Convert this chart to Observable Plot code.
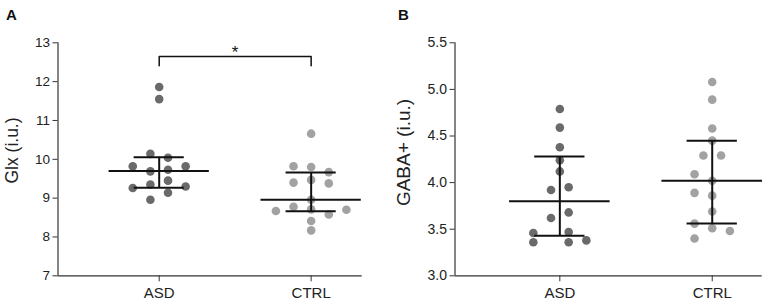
<!DOCTYPE html>
<html><head><meta charset="utf-8">
<script src="https://cdn.jsdelivr.net/npm/d3@7"></script>
<script src="https://cdn.jsdelivr.net/npm/@observablehq/plot@0.6"></script>
<style>
body{margin:0;background:#fff;}
#wrap{position:relative;width:765px;height:301px;font-family:"Liberation Sans",Arial,sans-serif;overflow:hidden;}
.panel{position:absolute;top:0;}
.tag{position:absolute;font-weight:bold;font-size:15px;line-height:15px;color:#111;}
</style></head><body><div id="wrap"></div>
<script>
// ---- data ----
const groups = ["ASD", "CTRL"];

// Panel A: Glx (i.u.)
const glxASD    = [11.86, 11.55, 10.14, 10.04, 9.82, 9.82, 9.69, 9.73, 9.45, 9.35, 9.26, 9.30, 9.14, 8.96];
const glxASDCol = [0, 0, -1, 1, -3, 3, -1, 1, 1, -1, -3, 3, 1, -1];
const glxCTRL    = [10.66, 9.82, 9.80, 9.67, 9.40, 9.47, 9.38, 8.96, 8.78, 8.71, 8.67, 8.70, 8.58, 8.41, 8.17];
const glxCTRLCol = [0, -2, 0, 2, -2, 0, 2, 0, -2, 0, -4, 4, 2, 0, 0];
const glxMean  = [9.70, 8.96];
const glxUpper = [10.05, 9.66];
const glxLower = [9.27, 8.66];
const glxTicks = [7, 8, 9, 10, 11, 12, 13];

// Panel B: GABA+ (i.u.)
const gabaASD    = [4.79, 4.59, 4.38, 4.24, 4.12, 3.92, 3.95, 3.68, 3.62, 3.46, 3.47, 3.36, 3.36, 3.38];
const gabaASDCol = [0, 0, 0, 0, 0, -1, 1, 1, -1, -3, 1, -3, 1, 3];
const gabaCTRL    = [5.08, 4.89, 4.58, 4.45, 4.29, 4.29, 4.09, 4.02, 3.89, 3.86, 3.69, 3.56, 3.51, 3.48, 3.40];
const gabaCTRLCol = [0, 0, 0, 0, -1, 1, -2, 0, -2, 0, 0, -2, 0, 2, -2];
const gabaMean  = [3.80, 4.02];
const gabaUpper = [4.28, 4.45];
const gabaLower = [3.43, 3.56];
const gabaTicks = [3.0, 3.5, 4.0, 4.5, 5.0, 5.5];

// significance annotation (panel A)
const sigPair  = ["ASD", "CTRL"];
const sigLabel = "*";
const sigLevel = 12.65;
const sigLeg   = 0.24;

// ---- drawing ----
const FONT = '"Liberation Sans", Arial, sans-serif';
const ASD_COLOR = "#6a6a6a", CTRL_COLOR = "#a2a2a4";
const SLOT = 0.058;

function panel(o) {
  const asdPts = o.asd.map((v, i) => ({x: 1 + o.asdCol[i] * SLOT, v}));
  const ctrlPts = o.ctrl.map((v, i) => ({x: 2 + o.ctrlCol[i] * SLOT, v}));
  const stats = groups.map((g, i) => ({x: i + 1, mean: o.mean[i], upper: o.upper[i], lower: o.lower[i]}));
  const marks = [
    Plot.axisY({ticks: o.ticks, tickFormat: o.fmt, tickSize: 5, tickPadding: 3, fontSize: o.tickSize, label: null, stroke: "#333", fill: "#222"}),
    Plot.axisX({ticks: [1, 2], tickFormat: d => groups[d - 1], tickSize: 6, tickPadding: 5.5, fontSize: 15, label: null, stroke: "#333", fill: "#222"}),
    Plot.ruleX([o.xDomain[0]], {stroke: "#333", strokeWidth: 1.2}),
    Plot.ruleY([o.yDomain[0]], {stroke: "#333", strokeWidth: 1.2}),
    Plot.dot(asdPts, {x: "x", y: "v", r: 4.3, fill: ASD_COLOR, stroke: "none"}),
    Plot.dot(ctrlPts, {x: "x", y: "v", r: 4.3, fill: CTRL_COLOR, stroke: "none"}),
    Plot.ruleY(stats, {y: "mean", x1: d => d.x - 0.33, x2: d => d.x + 0.33, stroke: "#111", strokeWidth: 2}),
    Plot.ruleY(stats, {y: "upper", x1: d => d.x - 0.165, x2: d => d.x + 0.165, stroke: "#111", strokeWidth: 2}),
    Plot.ruleY(stats, {y: "lower", x1: d => d.x - 0.165, x2: d => d.x + 0.165, stroke: "#111", strokeWidth: 2}),
    Plot.ruleX(stats, {x: "x", y1: "lower", y2: "upper", stroke: "#111", strokeWidth: 2}),
    Plot.text([o.label], {frameAnchor: "left", text: d => d, rotate: -90, dx: o.labelDx, dy: o.labelDy, fontSize: o.labelSize, fill: "#222", textAnchor: "middle", lineAnchor: "middle"})
  ];
  if (o.sig) {
    const a = groups.indexOf(o.sig.pair[0]) + 1, b = groups.indexOf(o.sig.pair[1]) + 1;
    const pts = [[a, o.sig.level - o.sig.leg], [a, o.sig.level], [b, o.sig.level], [b, o.sig.level - o.sig.leg]];
    marks.push(Plot.line(pts, {x: d => d[0], y: d => d[1], stroke: "#111", strokeWidth: 1.5}));
    marks.push(Plot.text([o.sig.label], {x: (a + b) / 2, y: o.sig.level, text: d => d, fontSize: 17, fill: "#111", lineAnchor: "bottom", dy: 2}));
  }
  return Plot.plot({
    width: o.width, height: 301,
    marginLeft: o.ml, marginRight: o.mr, marginTop: 42.3, marginBottom: 25.7,
    style: {fontFamily: FONT, background: "transparent", overflow: "visible"},
    x: {type: "linear", domain: o.xDomain},
    y: {domain: o.yDomain},
    marks
  });
}

const wrap = document.getElementById("wrap");

const pA = panel({
  width: 383, ml: 57.5, mr: 21.3, xDomain: [0.334, 2.336], yDomain: [7, 13],
  ticks: glxTicks, fmt: d3.format("d"), tickSize: 13.5, label: "Glx (i.u.)", labelSize: 17.5, labelDx: -45.5, labelDy: -8.8,
  asd: glxASD, asdCol: glxASDCol, ctrl: glxCTRL, ctrlCol: glxCTRLCol,
  mean: glxMean, upper: glxUpper, lower: glxLower,
  sig: {pair: sigPair, label: sigLabel, level: sigLevel, leg: sigLeg}
});
pA.classList.add("panel"); pA.style.left = "0px";
wrap.appendChild(pA);

const pB = panel({
  width: 382, ml: 71.5, mr: 3.3, xDomain: [0.312, 2.328], yDomain: [3.0, 5.5],
  ticks: gabaTicks, fmt: d3.format(".1f"), tickSize: 14, label: "GABA+ (i.u.)", labelSize: 19, labelDx: -51.5, labelDy: -6.8,
  asd: gabaASD, asdCol: gabaASDCol, ctrl: gabaCTRL, ctrlCol: gabaCTRLCol,
  mean: gabaMean, upper: gabaUpper, lower: gabaLower
});
pB.classList.add("panel"); pB.style.left = "383px";
wrap.appendChild(pB);

const tA = document.createElement("div"); tA.className = "tag"; tA.textContent = "A";
tA.style.left = "6px"; tA.style.top = "7px"; wrap.appendChild(tA);
const tB = document.createElement("div"); tB.className = "tag"; tB.textContent = "B";
tB.style.left = "398px"; tB.style.top = "7px"; wrap.appendChild(tB);
</script>
</body></html>
